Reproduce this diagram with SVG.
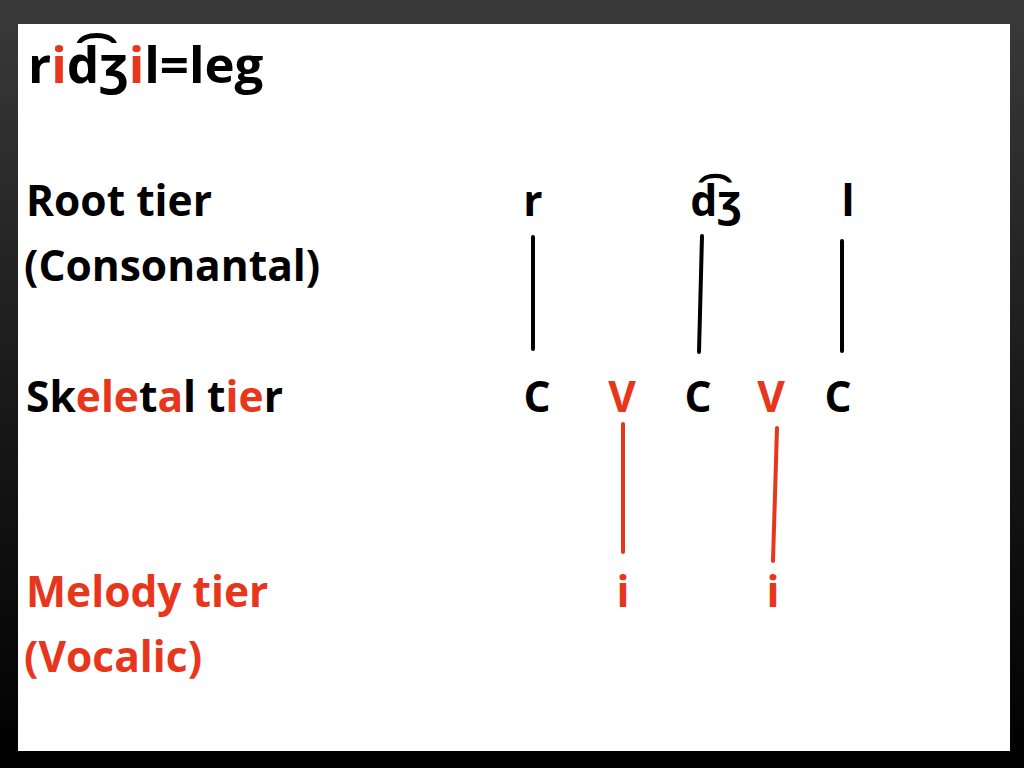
<svg xmlns="http://www.w3.org/2000/svg" width="1024" height="768" viewBox="0 0 1024 768">
<defs>
<linearGradient id="bg" x1="0" y1="0" x2="0" y2="1">
<stop offset="0" stop-color="#3a3a3a"/>
<stop offset="0.5" stop-color="#1a1a1a"/>
<stop offset="1" stop-color="#000000"/>
</linearGradient>
<style>
.t{font-family:"Open Sans","Noto Sans","DejaVu Sans",sans-serif;font-weight:bold;fill:#000}
.r{fill:#e8361c}
.lbl{font-size:42.5px}
.ln{stroke:#000;stroke-width:4;stroke-linecap:round}
.lr{stroke:#e8361c;stroke-width:4;stroke-linecap:round}
</style>
</defs>
<rect x="0" y="0" width="1024" height="768" fill="url(#bg)"/>
<rect x="18" y="24" width="992" height="727" fill="#ffffff"/>

<g id="title">
<text class="t" x="28" y="83" font-size="51">r<tspan class="r">i</tspan>d͡ʒ<tspan class="r">i</tspan>l=leg</text>
</g>

<g id="labels">
<text id="root-tier" class="t lbl" x="26" y="216">Root tier</text>
<text id="consonantal" class="t lbl" x="24" y="281">(Consonantal)</text>
<text id="skeletal-tier" class="t lbl" x="26" y="412">Sk<tspan class="r">ele</tspan>t<tspan class="r">a</tspan>l t<tspan class="r">ie</tspan>r</text>
<text id="melody-tier" class="t lbl r" x="26" y="607">Melody tier</text>
<text id="vocalic" class="t lbl r" x="24" y="672">(Vocalic)</text>
</g>

<g id="root-nodes">
<text id="root-r" class="t lbl" x="533" y="216" text-anchor="middle">r</text>
<text id="root-dz" class="t lbl" x="716" y="216" text-anchor="middle">d͡ʒ</text>
<text id="root-l" class="t lbl" x="848" y="216" text-anchor="middle">l</text>
</g>

<g id="skeletal-nodes">
<text id="c1" class="t lbl" x="537" y="412" text-anchor="middle">C</text>
<text id="v1" class="t lbl r" x="622" y="412" text-anchor="middle">V</text>
<text id="c2" class="t lbl" x="698" y="412" text-anchor="middle">C</text>
<text id="v2" class="t lbl r" x="771" y="412" text-anchor="middle">V</text>
<text id="c3" class="t lbl" x="838" y="412" text-anchor="middle">C</text>
</g>

<g id="melody-nodes">
<text id="i1" class="t lbl r" x="623" y="607" text-anchor="middle">i</text>
<text id="i2" class="t lbl r" x="773" y="607" text-anchor="middle">i</text>
</g>

<g id="connectors">
<line class="ln" x1="533" y1="237" x2="533" y2="349"/>
<line class="ln" x1="702" y1="236" x2="699" y2="352"/>
<line class="ln" x1="842" y1="241" x2="842" y2="351"/>
<line class="lr" x1="623" y1="424" x2="623" y2="552"/>
<line class="lr" x1="777" y1="428" x2="773" y2="561"/>
</g>
</svg>
